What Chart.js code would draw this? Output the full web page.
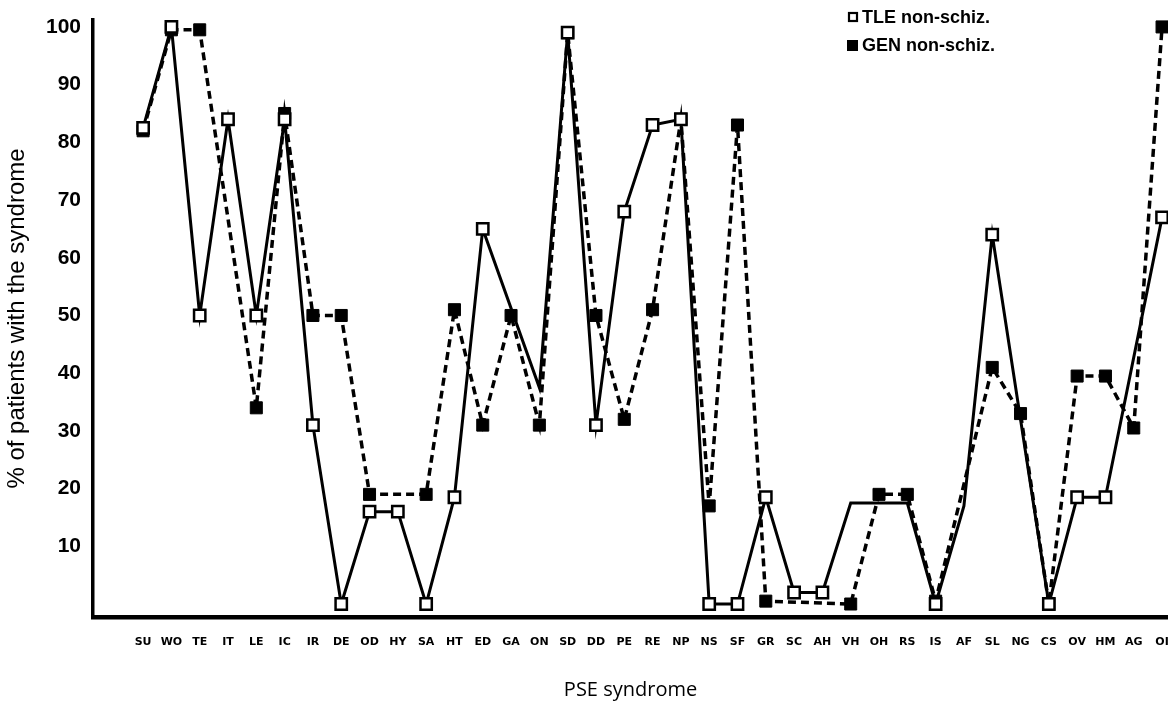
<!DOCTYPE html>
<html>
<head>
<meta charset="utf-8">
<script src="https://cdn.jsdelivr.net/npm/chart.js@4.4.1/dist/chart.umd.min.js"></script>
<style>
  html, body { margin: 0; padding: 0; background: #fff; overflow: hidden; }
  canvas { display: block; }
</style>
</head>
<body>
<canvas id="pse-chart" width="1168" height="702"></canvas>
<script>
var syndromes = ['SU', 'WO', 'TE', 'IT', 'LE', 'IC', 'IR', 'DE', 'OD', 'HY', 'SA', 'HT', 'ED', 'GA', 'ON', 'SD', 'DD', 'PE', 'RE',
  'NP', 'NS', 'SF', 'GR', 'SC', 'AH', 'VH', 'OH', 'RS', 'IS', 'AF', 'SL', 'NG', 'CS', 'OV', 'HM', 'AG', 'OI'];

// TLE non-schiz. (open squares, solid line); null = line passes without a point
var tleNonSchiz = [82.5, 100, 50, 84, 50, 84, 31, 0, 16, 16, 0, 18.5, 65, null, 37.5, 99, 31, 68, 83,
  84, 0, 0, 18.5, 2, 2, 17.5, 17.5, 17.5, 0, 17, 64, null, 0, 18.5, 18.5, null, 67];

// GEN non-schiz. (filled squares, dashed line)
var genNonSchiz = [82, 99.5, 99.5, null, 34, 85, 50, 50, 19, null, 19, 51, 31, 50, 31, 99, 50, 32, 51,
  84, 17, 83, 0.5, null, null, 0, 19, 19, 0.5, null, 41, 33, 0, 39.5, 39.5, 30.5, 100];

var yTicks = [10, 20, 30, 40, 50, 60, 70, 80, 90, 100];

// bends of the TLE line that the original draws without a marker
var tleBareBends = ['ON', 'VH', 'OH', 'RS', 'AF'];

function toPoints(values) {
  return values.map(function (v, i) { return { x: i, y: v }; });
}

// legend drawn in the top right corner like the original figure
var cornerLegend = {
  id: 'cornerLegend',
  afterDraw: function (chart) {
    var ctx = chart.ctx;
    ctx.save();
    ctx.font = 'bold 18px "Liberation Sans", Arial, sans-serif';
    ctx.textBaseline = 'middle';
    ctx.strokeStyle = '#000';
    ctx.lineWidth = 2.2;
    ctx.fillStyle = '#fff';
    ctx.fillRect(849, 13, 8, 8);
    ctx.strokeRect(849, 13, 8, 8);
    ctx.fillStyle = '#000';
    ctx.fillRect(847, 40, 11, 11);
    ctx.fillText(chart.data.datasets[0].label, 862, 18);
    ctx.fillText(chart.data.datasets[1].label, 862, 46);
    ctx.restore();
  }
};

var ctx = document.getElementById('pse-chart').getContext('2d');
var myChart = new Chart(ctx, {
  type: 'line',
  data: {
    datasets: [{
      label: 'TLE non-schiz.',
      data: toPoints(tleNonSchiz),
      borderColor: '#000',
      borderWidth: 3,
      pointStyle: 'rect',
      pointRadius: function (c) {
        return tleBareBends.indexOf(syndromes[c.dataIndex]) >= 0 ? 0 : 8;
      },
      pointBorderWidth: 2.5,
      pointBackgroundColor: '#fff',
      pointBorderColor: '#000',
      spanGaps: true,
      tension: 0
    }, {
      label: 'GEN non-schiz.',
      data: toPoints(genNonSchiz),
      borderColor: '#000',
      borderWidth: 3.5,
      borderDash: [8, 5],
      pointStyle: 'rect',
      pointRadius: 8.5,
      pointBorderWidth: 1,
      pointBackgroundColor: '#000',
      pointBorderColor: '#000',
      spanGaps: true,
      tension: 0
    }]
  },
  options: {
    responsive: false,
    animation: false,
    layout: { autoPadding: false, padding: { top: 20, right: 0, bottom: 0, left: 0 } },
    scales: {
      x: {
        type: 'linear',
        min: -1.77,
        max: 36.21,
        afterBuildTicks: function (scale) {
          scale.ticks = syndromes.map(function (s, i) { return { value: i }; });
        },
        afterFit: function (scale) {
          scale.height = 85;
          scale.paddingLeft = 0;
          scale.paddingRight = 0;
        },
        grid: { display: false, drawTicks: false },
        border: { display: true, color: '#000', width: 4.5 },
        ticks: {
          autoSkip: false,
          maxRotation: 0,
          padding: 19,
          color: '#000',
          font: { family: '"DejaVu Sans", sans-serif', size: 11, weight: 'bold' },
          callback: function (v) { return syndromes[v]; }
        },
        title: {
          display: true,
          text: 'PSE syndrome',
          color: '#000',
          font: { family: '"Open Sans", sans-serif', size: 20 },
          padding: { top: 0, bottom: 0 }
        }
      },
      y: {
        min: -2.25,
        max: 101.2,
        afterBuildTicks: function (scale) {
          scale.ticks = yTicks.map(function (v) { return { value: v }; });
        },
        afterFit: function (scale) {
          scale.width = 93;
          scale.paddingTop = 0;
          scale.paddingBottom = 0;
        },
        grid: { display: false, drawTicks: false },
        border: { display: true, color: '#000', width: 3.5 },
        ticks: {
          padding: 12,
          color: '#000',
          font: { family: '"Liberation Sans", Arial, sans-serif', size: 21, weight: 'bold' }
        },
        title: {
          display: true,
          text: '% of patients with the syndrome',
          color: '#000',
          font: { family: '"Liberation Sans", Arial, sans-serif', size: 24 },
          padding: { top: 3, bottom: 0 }
        }
      }
    },
    plugins: {
      legend: { display: false },
      tooltip: { enabled: false }
    }
  },
  plugins: [cornerLegend]
});
</script>
</body>
</html>
